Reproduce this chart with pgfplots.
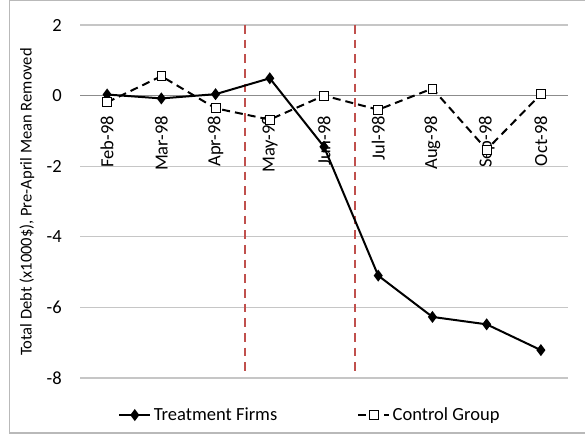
\documentclass[border=0pt]{standalone}
\usepackage{pgfplots}
\pgfplotsset{compat=1.18}
\usepackage{fontspec}
\setmainfont{Carlito}
\definecolor{exred}{HTML}{C0504D}
\begin{document}
\begin{tikzpicture}
\useasboundingbox (0,0) rectangle (438.75pt,326.25pt);
\draw[gray!55, line width=0.8pt] (445pt,1.5pt) -- (7.1pt,1.5pt) -- (7.1pt,325.9pt) -- (445pt,325.9pt);
\begin{axis}[
  at={(60pt,42.75pt)}, anchor=south west,
  scale only axis, width=366pt, height=264.75pt,
  xmin=-0.5, xmax=8.5, ymin=-8, ymax=2,
  axis x line=middle, axis y line=left,
  x axis line style={draw=gray!90, line width=0.8pt, -},
  y axis line style={draw=none},
  major tick length=0pt,
  xtick={0,...,8},
  xticklabels={Feb-98,Mar-98,Apr-98,May-98,Jun-98,Jul-98,Aug-98,Sep-98,Oct-98},
  ytick={-8,-6,-4,-2,0,2},
  ymajorgrids, grid style={gray!45, line width=0.8pt},
  /pgf/number format/assume math mode=true,
  tick label style={font=\fontsize{13.9}{16}\selectfont},
  xticklabel style={rotate=90, anchor=east, inner sep=0pt},
  xticklabel shift=15pt,
  yticklabel style={inner sep=0pt, xshift=-13.5pt},
  ylabel={Total Debt (x1000\$), Pre-April Mean Removed},
  ylabel style={at={(rel axis cs:-0.1086,0.4986)}, anchor=center, font=\fontsize{12.4}{14}\selectfont},
  legend columns=2,
  legend style={at={(rel axis cs:0.472,-0.105)}, anchor=center, draw=none, fill=none,
    font=\fontsize{13.9}{16}\selectfont, /tikz/every even column/.append style={column sep=58pt}},
  legend image code/.code={\draw[mark repeat=2,mark phase=2,#1] plot coordinates {(0pt,0pt) (11.5pt,0pt) (23pt,0pt)};},
]
\addplot[exred, line width=1.5pt, dash pattern=on 6.4pt off 4.6pt, forget plot] coordinates {(2.55,2) (2.55,-7.9)};
\addplot[exred, line width=1.5pt, dash pattern=on 6.4pt off 4.6pt, forget plot] coordinates {(4.57,2) (4.57,-7.9)};
\addplot[black, line width=1.5pt, mark=diamond*, mark size=3.3pt, mark options={solid}] coordinates {
(0,0.03) (1,-0.08) (2,0.04) (3,0.49) (4,-1.45) (5,-5.10) (6,-6.27) (7,-6.48) (8,-7.21)};
\addlegendentry{Treatment Firms}
\addplot[black, line width=1.5pt, dash pattern=on 6pt off 3.75pt, mark=square*, mark size=3.3pt, mark options={solid, fill=white, line width=0.6pt}] coordinates {
(0,-0.19) (1,0.55) (2,-0.36) (3,-0.68) (4,0.0) (5,-0.40) (6,0.20) (7,-1.53) (8,0.04)};
\addlegendentry{Control Group}
\end{axis}
\end{tikzpicture}
\end{document}
